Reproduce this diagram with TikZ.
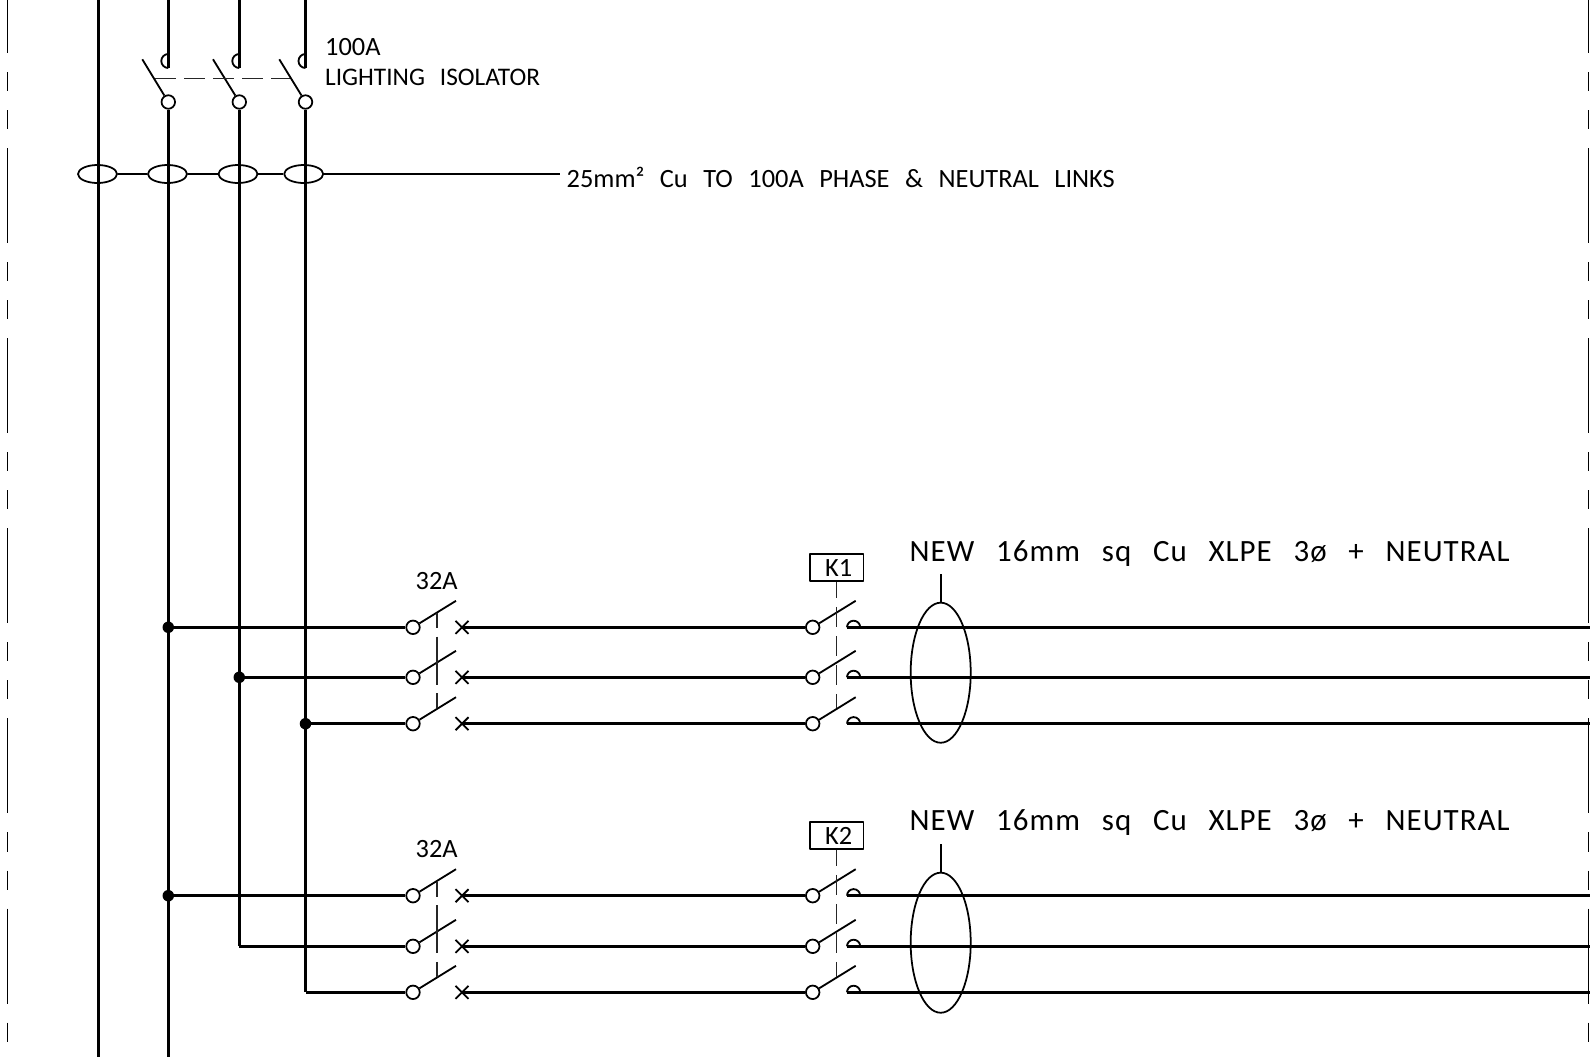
\documentclass[tikz,border=0pt]{standalone}
\usepackage{fontspec}
\setmainfont[WordSpace=2.6]{Carlito}
\newfontfamily\largefont[WordSpace=2.7,LetterSpace=3.4]{Carlito}
\usetikzlibrary{shapes.geometric}
\tikzset{
    bus/.style={line width=0.78pt},
    heavybus/.style={line width=0.9pt},
    wire/.style={line width=0.52pt},
    ctrl/.style={line width=0.38pt,black!85},
    tiedash/.style={dash pattern=on 2.05mm off 0.85mm},
    cbdash/.style={dash pattern=on 1.5mm off 0.85mm on 4.8mm off 0.85mm on 1.5mm off 9mm},
    sheet/.style={line width=0.55pt,dash pattern=on 9.5mm off 1.9mm on 1.9mm off 1.9mm on 1.9mm off 1.9mm,dash phase=4.2mm},
    contact/.style={draw,circle,fill=white,line width=0.5pt,minimum size=1.35mm,inner sep=0pt},
    joint/.style={circle,fill=black,minimum size=1.15mm,inner sep=0pt},
    ring/.style={draw,ellipse,line width=0.5pt,minimum width=3.9mm,minimum height=1.8mm,inner sep=0pt},
    bundle/.style={draw,ellipse,line width=0.5pt,minimum width=6mm,minimum height=14mm,inner sep=0pt},
    coil/.style={draw,line width=0.55pt,minimum width=5.35mm,minimum height=2.7mm,inner sep=0pt,font=\fontsize{7.5}{9}\selectfont},
    small/.style={anchor=base west,inner sep=0pt,font=\fontsize{7.5}{9}\selectfont},
    narrow/.style={anchor=base west,inner sep=0pt,font=\fontsize{7.2}{9}\selectfont},
    large/.style={anchor=base west,inner sep=0pt,font=\fontsize{8.8}{10}\selectfont\largefont}
}

\begin{document}
\begin{tikzpicture}[x=0.01cm,y=-0.01cm,line join=round]
    \useasboundingbox (0,0) rectangle (1590,1057);
    % sheet edges
    \draw[sheet] (7.5,0) -- (7.5,1057);
    \draw[sheet] (1588.5,0) -- (1588.5,1057);

    % isolator
    \node[contact] (iso1) at (168.3,102) {};
    \node[contact] (iso2) at (239.3,102) {};
    \node[contact] (iso3) at (305.5,102) {};
    \foreach \n/\x/\t/\w in {1/168.3/142.3/heavybus,2/239.3/213/bus,3/305.5/279.3/bus} {
        \coordinate (top\n) at (\x,0);
        \coordinate (arc\n) at (\x,68);
        \coordinate (tip\n) at (\t,59.3);
        \draw[\w] (top\n) -- (arc\n);
        \draw[wire] (arc\n) arc[start angle=90,end angle=270,radius=7];
        \draw[wire] (iso\n) -- (tip\n);
    }
    \draw[ctrl,tiedash] (155,78.3) -- (290,78.3);
    \node[small] (isorate) at (324.5,55) {100A};
    \node[narrow] (isoname) at (324.5,85) {LIGHTING ISOLATOR};

    % bars
    \coordinate (n0) at (98.3,0);
    \coordinate (n1) at (98.3,1057);
    \coordinate (l1) at (168.3,1057);
    \coordinate (l2) at (239.3,946.3);
    \coordinate (l3) at (305.5,992.3);
    \draw[bus] (n0) -- (n1);
    \draw[heavybus] (iso1) -- (l1);
    \draw[bus] (iso2) -- (l2);
    \draw[bus] (iso3) -- (l3);

    % links
    \node[ring] (r0) at (97.5,174) {};
    \node[ring] (r1) at (167.5,174) {};
    \node[ring] (r2) at (238,174) {};
    \node[ring] (r3) at (303.7,174) {};
    \coordinate (linkend) at (560,174);
    \draw[wire] (r0) -- (r1);
    \draw[wire] (r1) -- (r2);
    \draw[wire] (r2) -- (r3);
    \draw[wire] (r3) -- (linkend);
    \node[small] (linktext) at (566,187) {25mm² Cu TO 100A PHASE \& NEUTRAL LINKS};

    % outgoing ways
    \foreach \n/\x/\y in {1/168.3/627.3,2/239.3/677.3,3/305.5/723.7,4/168.3/895.7,5/239.3/946.3,6/305.5/992.3} {
        \coordinate (tap\n) at (\x,\y);
        \node[contact] (cb\n) at (413,\y) {};
        \node[contact] (km\n) at (812.7,\y) {};
        \coordinate (trip\n) at (462,\y);
        \coordinate (arc\n) at (847,\y);
        \coordinate (end\n) at (1590,\y);
        \draw[bus] (tap\n) -- (cb\n);
        \draw[bus] (trip\n) -- (km\n);
        \draw[bus] (arc\n) -- (end\n);
        \draw[wire] (arc\n) arc[start angle=180,end angle=360,radius=6.6];
        \draw[wire] (cb\n) -- ++(43,-26.5);
        \draw[wire] (km\n) -- ++(43,-26.5);
        \draw[wire] (trip\n) ++(-6.5,-6.5) -- ++(13,13) ++(-13,0) -- ++(13,-13);
    }
    \node[joint] (j1) at (tap1) {};
    \node[joint] (j2) at (tap2) {};
    \node[joint] (j3) at (tap3) {};
    \node[joint] (j4) at (tap4) {};

    % first group
    \draw[ctrl,cbdash] (437,613) -- (437,708);
    \node[coil] (k1) at (836.7,567.8) {\hspace*{0.4mm}K1};
    \coordinate (k1a) at (836.7,708);
    \draw[ctrl,tiedash,dash phase=0.45mm] (k1) -- (k1a);
    \node[bundle] (e1) at (940.7,672.7) {};
    \coordinate (e1t) at (940.7,574);
    \draw[wire] (e1) -- (e1t);
    \node[small] (cb1t) at (415,589) {32A};
    \node[large] (c1t) at (909,561) {NEW 16mm sq Cu XLPE 3ø + NEUTRAL};

    % second group
    \draw[ctrl,cbdash] (437,881.7) -- (437,976.7);
    \node[coil] (k2) at (836.7,835.8) {\hspace*{0.4mm}K2};
    \coordinate (k2a) at (836.7,976.7);
    \draw[ctrl,tiedash,dash phase=0.45mm] (k2) -- (k2a);
    \node[bundle] (e2) at (940.7,942.7) {};
    \coordinate (e2t) at (940.7,844);
    \draw[wire] (e2) -- (e2t);
    \node[small] (cb2t) at (415,857) {32A};
    \node[large] (c2t) at (909,830.5) {NEW 16mm sq Cu XLPE 3ø + NEUTRAL};
\end{tikzpicture}
\end{document}
